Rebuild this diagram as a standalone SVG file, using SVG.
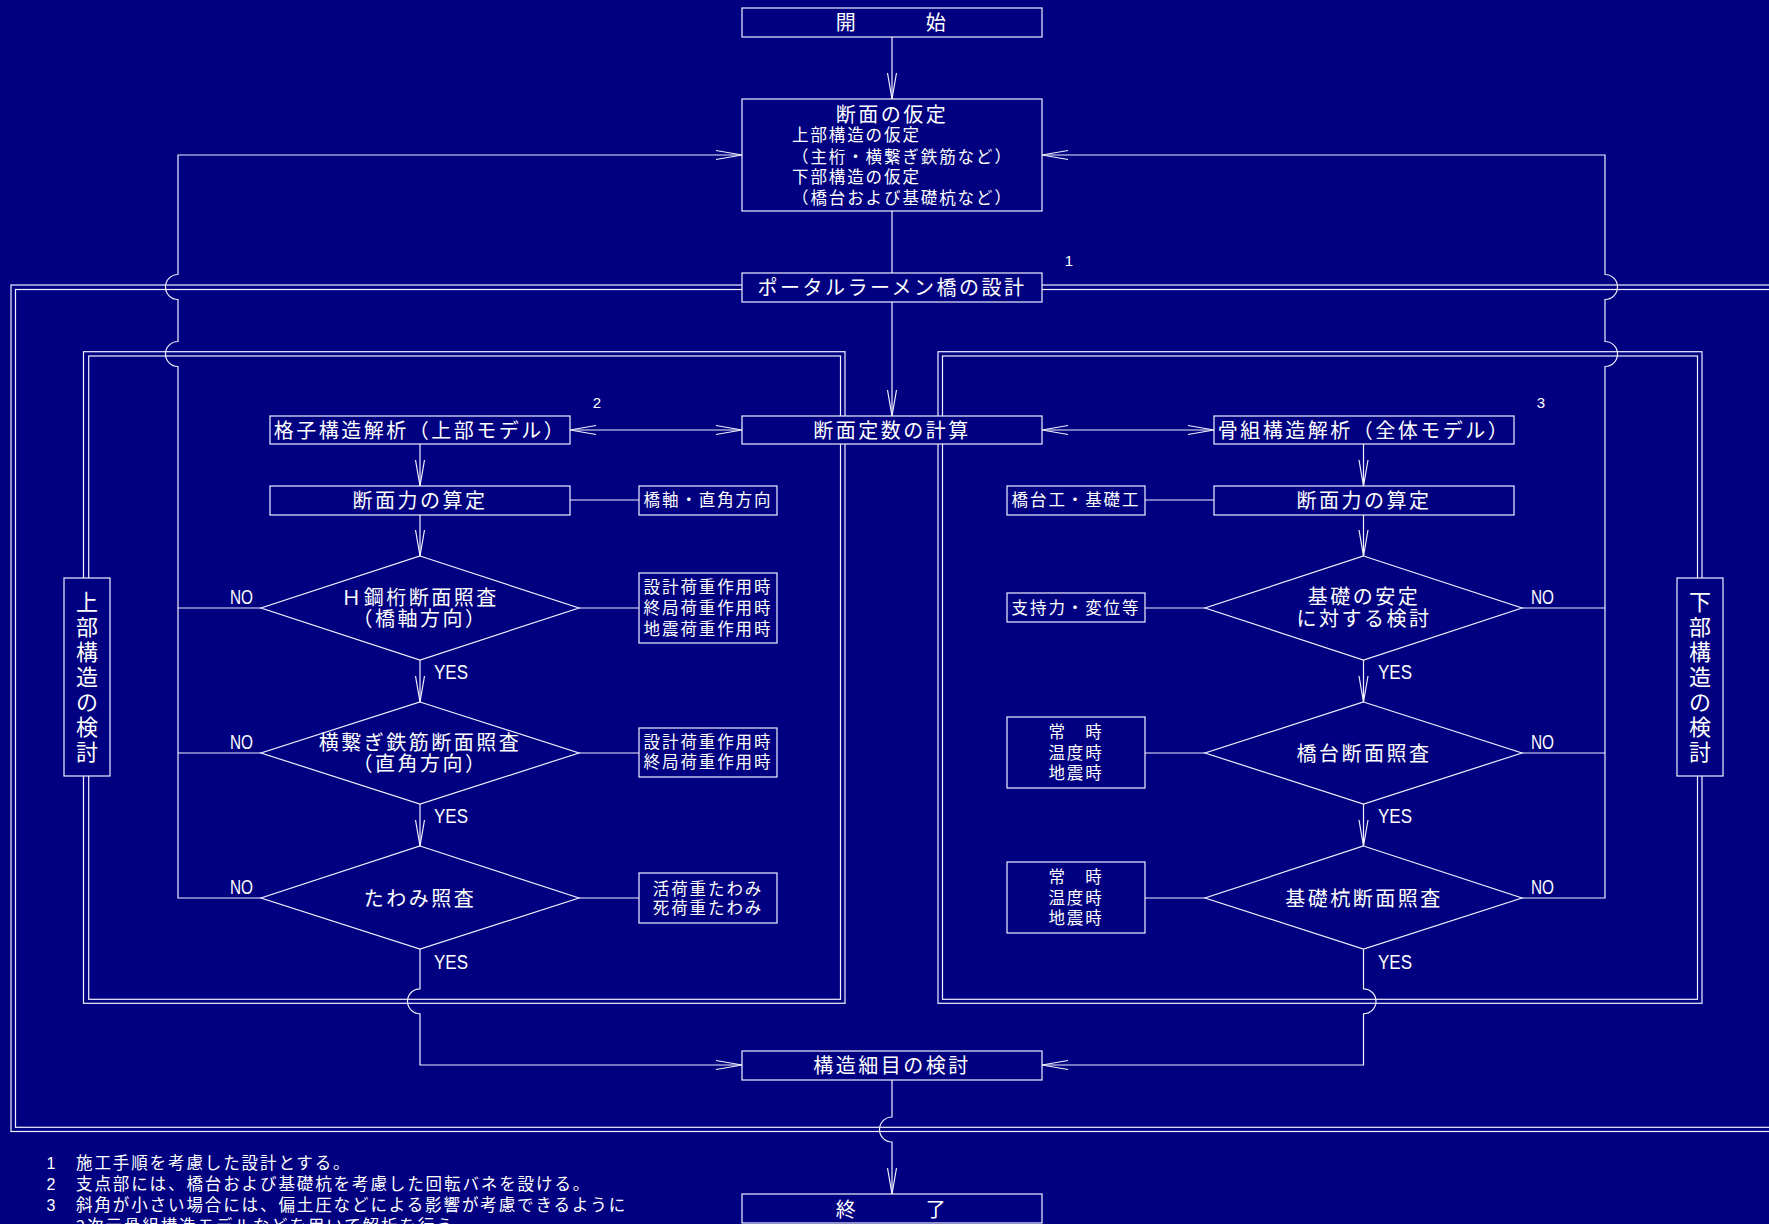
<svg xmlns="http://www.w3.org/2000/svg" width="1769" height="1224" viewBox="0 0 1769 1224">
<style>
.ln{fill:none;stroke:#F0F0FF;stroke-width:1.2}
.fr{fill:none;stroke:#F0F0FF;stroke-width:1.2}
.bx{fill:#000080;stroke:#F0F0FF;stroke-width:1.2}
.t{font-family:"Noto Sans CJK JP","Noto Sans CJK SC",sans-serif;font-size:20px;letter-spacing:2.5px;fill:#FFFFFF;text-anchor:middle}
.s{font-size:16.5px;letter-spacing:1.9px}
.l{text-anchor:start}
.v{font-size:22px;letter-spacing:0}
.lb{font-family:"Liberation Sans",Arial,sans-serif;font-size:20px;fill:#FFFFFF}
.nm{font-family:"Liberation Sans",Arial,sans-serif;font-size:15px;fill:#FFFFFF;text-anchor:middle}
</style>
<defs>
<marker id="ah" viewBox="0 0 28 12" refX="27" refY="6" markerWidth="28" markerHeight="12" markerUnits="userSpaceOnUse" orient="auto-start-reverse"><path d="M1,1.5 L27,6 L1,10.5" fill="none" stroke="#F0F0FF" stroke-width="1.2"/></marker>
</defs>
<rect x="0" y="0" width="1769" height="1224" fill="#000080"/>

<g id="frames">
<rect class="fr" x="11" y="285" width="1790" height="846.5"/>
<rect class="fr" x="15.5" y="289.5" width="1790" height="837.8"/>
<rect class="fr" x="83.5" y="351.7" width="761.5" height="651.6"/>
<rect class="fr" x="88.7" y="356" width="751.8" height="643.3"/>
<rect class="fr" x="938" y="351.7" width="764" height="651.6"/>
<rect class="fr" x="942.5" y="356" width="755" height="643.3"/>
</g>

<g id="connectors">
<path class="ln" d="M892,37 V99" marker-end="url(#ah)"/>
<path class="ln" d="M892,211 V273"/>
<path class="ln" d="M892,302 V416" marker-end="url(#ah)"/>
<path class="ln" d="M261,898 H178 V366.5 A12.5,12.5 0 0 1 178,341.5 V299.5 A12.5,12.5 0 0 1 178,274.5 V155 H742" marker-end="url(#ah)"/>
<path class="ln" d="M261,608 H178 M261,753 H178"/>
<path class="ln" d="M1522,898 H1605 V366.5 A12.5,12.5 0 0 0 1605,341.5 V299.5 A12.5,12.5 0 0 0 1605,274.5 V155 H1042" marker-end="url(#ah)"/>
<path class="ln" d="M1522,608 H1605 M1522,753 H1605"/>
<path class="ln" d="M570,430 H742" marker-start="url(#ah)" marker-end="url(#ah)"/>
<path class="ln" d="M1042,430 H1214" marker-start="url(#ah)" marker-end="url(#ah)"/>
<path class="ln" d="M420,444 V486" marker-end="url(#ah)"/>
<path class="ln" d="M420,515 V556" marker-end="url(#ah)"/>
<path class="ln" d="M420,660 V702" marker-end="url(#ah)"/>
<path class="ln" d="M420,804 V846" marker-end="url(#ah)"/>
<path class="ln" d="M420,949 V988.8 A12.5,12.5 0 0 0 420,1013.8 V1065 H742" marker-end="url(#ah)"/>
<path class="ln" d="M1363.5,444 V486" marker-end="url(#ah)"/>
<path class="ln" d="M1363.5,515 V556" marker-end="url(#ah)"/>
<path class="ln" d="M1363.5,660 V702" marker-end="url(#ah)"/>
<path class="ln" d="M1363.5,804 V846" marker-end="url(#ah)"/>
<path class="ln" d="M1363.5,949 V988.8 A12.5,12.5 0 0 1 1363.5,1013.8 V1065 H1042" marker-end="url(#ah)"/>
<path class="ln" d="M892,1080 V1117 A12.5,12.5 0 0 0 892,1142 V1194" marker-end="url(#ah)"/>
<path class="ln" d="M570,500 H639 M579,608 H639 M579,753 H639 M579,898 H639"/>
<path class="ln" d="M1145,500 H1214 M1145,608 H1205 M1145,753 H1205 M1145,898 H1205"/>
</g>

<g id="labels">
<text class="nm" x="1069" y="266">1</text>
<text class="nm" x="597" y="408">2</text>
<text class="nm" x="1541" y="408">3</text>
<text class="lb" x="230" y="603.5" textLength="23" lengthAdjust="spacingAndGlyphs">NO</text>
<text class="lb" x="230" y="749" textLength="23" lengthAdjust="spacingAndGlyphs">NO</text>
<text class="lb" x="230" y="894" textLength="23" lengthAdjust="spacingAndGlyphs">NO</text>
<text class="lb" x="434" y="678.5" textLength="34" lengthAdjust="spacingAndGlyphs">YES</text>
<text class="lb" x="434" y="822.5" textLength="34" lengthAdjust="spacingAndGlyphs">YES</text>
<text class="lb" x="434" y="968.5" textLength="34" lengthAdjust="spacingAndGlyphs">YES</text>
<text class="lb" x="1531" y="603.5" textLength="23" lengthAdjust="spacingAndGlyphs">NO</text>
<text class="lb" x="1531" y="749" textLength="23" lengthAdjust="spacingAndGlyphs">NO</text>
<text class="lb" x="1531" y="894" textLength="23" lengthAdjust="spacingAndGlyphs">NO</text>
<text class="lb" x="1378" y="678.5" textLength="34" lengthAdjust="spacingAndGlyphs">YES</text>
<text class="lb" x="1378" y="822.5" textLength="34" lengthAdjust="spacingAndGlyphs">YES</text>
<text class="lb" x="1378" y="968.5" textLength="34" lengthAdjust="spacingAndGlyphs">YES</text>
</g>

<g id="n-start"><rect class="bx" x="742" y="8" width="300" height="29"/><text class="t" x="892" y="30">開　　　始</text></g>
<g id="n-assume"><rect class="bx" x="742" y="99" width="300" height="112"/>
<text class="t" x="892" y="121.5">断面の仮定</text>
<text class="t s l" x="792" y="141">上部構造の仮定</text>
<text class="t s l" x="792" y="162.5">（主桁・横繋ぎ鉄筋など）</text>
<text class="t s l" x="792" y="182.5">下部構造の仮定</text>
<text class="t s l" x="792" y="203.5">（橋台および基礎杭など）</text></g>
<g id="n-portal"><rect class="bx" x="742" y="273" width="300" height="29"/><text class="t" x="892" y="295">ポータルラーメン橋の設計</text></g>
<g id="n-grid"><rect class="bx" x="270" y="416" width="300" height="28"/><text class="t" x="420" y="437.5">格子構造解析（上部モデル）</text></g>
<g id="n-const"><rect class="bx" x="742" y="416" width="300" height="28"/><text class="t" x="892" y="437.5">断面定数の計算</text></g>
<g id="n-frame"><rect class="bx" x="1214" y="416" width="300" height="28"/><text class="t" x="1364" y="437.5">骨組構造解析（全体モデル）</text></g>
<g id="n-forceL"><rect class="bx" x="270" y="486" width="300" height="29"/><text class="t" x="420" y="507.5">断面力の算定</text></g>
<g id="n-forceR"><rect class="bx" x="1214" y="486" width="300" height="29"/><text class="t" x="1364" y="507.5">断面力の算定</text></g>
<g id="n-axis"><rect class="bx" x="639" y="486" width="138" height="29"/><text class="t s" x="708" y="506">橋軸・直角方向</text></g>
<g id="n-abut"><rect class="bx" x="1007" y="486" width="138" height="29"/><text class="t s" x="1076" y="506">橋台工・基礎工</text></g>

<g id="d-h"><polygon class="bx" points="420,556 579,608 420,660 261,608"/>
<text class="t" x="420" y="604.5">Ｈ鋼桁断面照査</text><text class="t" x="420" y="626">（橋軸方向）</text></g>
<g id="n-load1"><rect class="bx" x="639" y="573" width="138" height="70"/>
<text class="t s" x="708" y="593">設計荷重作用時</text><text class="t s" x="708" y="614">終局荷重作用時</text><text class="t s" x="708" y="635">地震荷重作用時</text></g>
<g id="d-tie"><polygon class="bx" points="420,702 579,753 420,804 261,753"/>
<text class="t" x="420" y="749.5">横繋ぎ鉄筋断面照査</text><text class="t" x="420" y="771">（直角方向）</text></g>
<g id="n-load2"><rect class="bx" x="639" y="728" width="138" height="49"/>
<text class="t s" x="708" y="748">設計荷重作用時</text><text class="t s" x="708" y="768">終局荷重作用時</text></g>
<g id="d-defl"><polygon class="bx" points="420,846 579,898 420,949 261,898"/>
<text class="t" x="420" y="905.5">たわみ照査</text></g>
<g id="n-defl"><rect class="bx" x="639" y="873" width="138" height="50"/>
<text class="t s" x="708" y="895">活荷重たわみ</text><text class="t s" x="708" y="914">死荷重たわみ</text></g>

<g id="d-found"><polygon class="bx" points="1363.5,556 1522,608 1363.5,660 1205,608"/>
<text class="t" x="1364" y="604">基礎の安定</text><text class="t" x="1364" y="626">に対する検討</text></g>
<g id="n-bear"><rect class="bx" x="1007" y="593" width="138" height="29"/><text class="t s" x="1076" y="614">支持力・変位等</text></g>
<g id="d-abut"><polygon class="bx" points="1363.5,702 1522,753 1363.5,804 1205,753"/>
<text class="t" x="1364" y="760.5">橋台断面照査</text></g>
<g id="n-case1"><rect class="bx" x="1007" y="717" width="138" height="71"/>
<text class="t s" x="1076" y="738">常　時</text><text class="t s" x="1076" y="759">温度時</text><text class="t s" x="1076" y="779">地震時</text></g>
<g id="d-pile"><polygon class="bx" points="1363.5,846 1522,898 1363.5,949 1205,898"/>
<text class="t" x="1364" y="905.5">基礎杭断面照査</text></g>
<g id="n-case2"><rect class="bx" x="1007" y="862" width="138" height="71"/>
<text class="t s" x="1076" y="883">常　時</text><text class="t s" x="1076" y="904">温度時</text><text class="t s" x="1076" y="924">地震時</text></g>

<g id="n-upper"><rect class="bx" x="64" y="578" width="46" height="198"/>
<text class="t v"><tspan x="87" y="610">上</tspan><tspan x="87" y="635">部</tspan><tspan x="87" y="660">構</tspan><tspan x="87" y="685">造</tspan><tspan x="87" y="710">の</tspan><tspan x="87" y="735">検</tspan><tspan x="87" y="760">討</tspan></text></g>
<g id="n-lower"><rect class="bx" x="1677" y="578" width="46" height="198"/>
<text class="t v"><tspan x="1700" y="610">下</tspan><tspan x="1700" y="635">部</tspan><tspan x="1700" y="660">構</tspan><tspan x="1700" y="685">造</tspan><tspan x="1700" y="710">の</tspan><tspan x="1700" y="735">検</tspan><tspan x="1700" y="760">討</tspan></text></g>

<g id="n-detail"><rect class="bx" x="742" y="1051" width="300" height="29"/><text class="t" x="892" y="1072.5">構造細目の検討</text></g>
<g id="n-end"><rect class="bx" x="742" y="1194" width="300" height="29"/><text class="t" x="892" y="1216.5">終　　　了</text></g>

<g id="notes">
<text class="nm" x="51" y="1169" style="font-size:16px">1</text>
<text class="t s l" x="76" y="1169">施工手順を考慮した設計とする。</text>
<text class="nm" x="51" y="1190" style="font-size:16px">2</text>
<text class="t s l" x="76" y="1190">支点部には、橋台および基礎杭を考慮した回転バネを設ける。</text>
<text class="nm" x="51" y="1211" style="font-size:16px">3</text>
<text class="t s l" x="76" y="1211">斜角が小さい場合には、偏土圧などによる影響が考慮できるように</text>
<text class="t s l" x="76" y="1232">2次元骨組構造モデルなどを用いて解析を行う。</text>
</g>
</svg>
